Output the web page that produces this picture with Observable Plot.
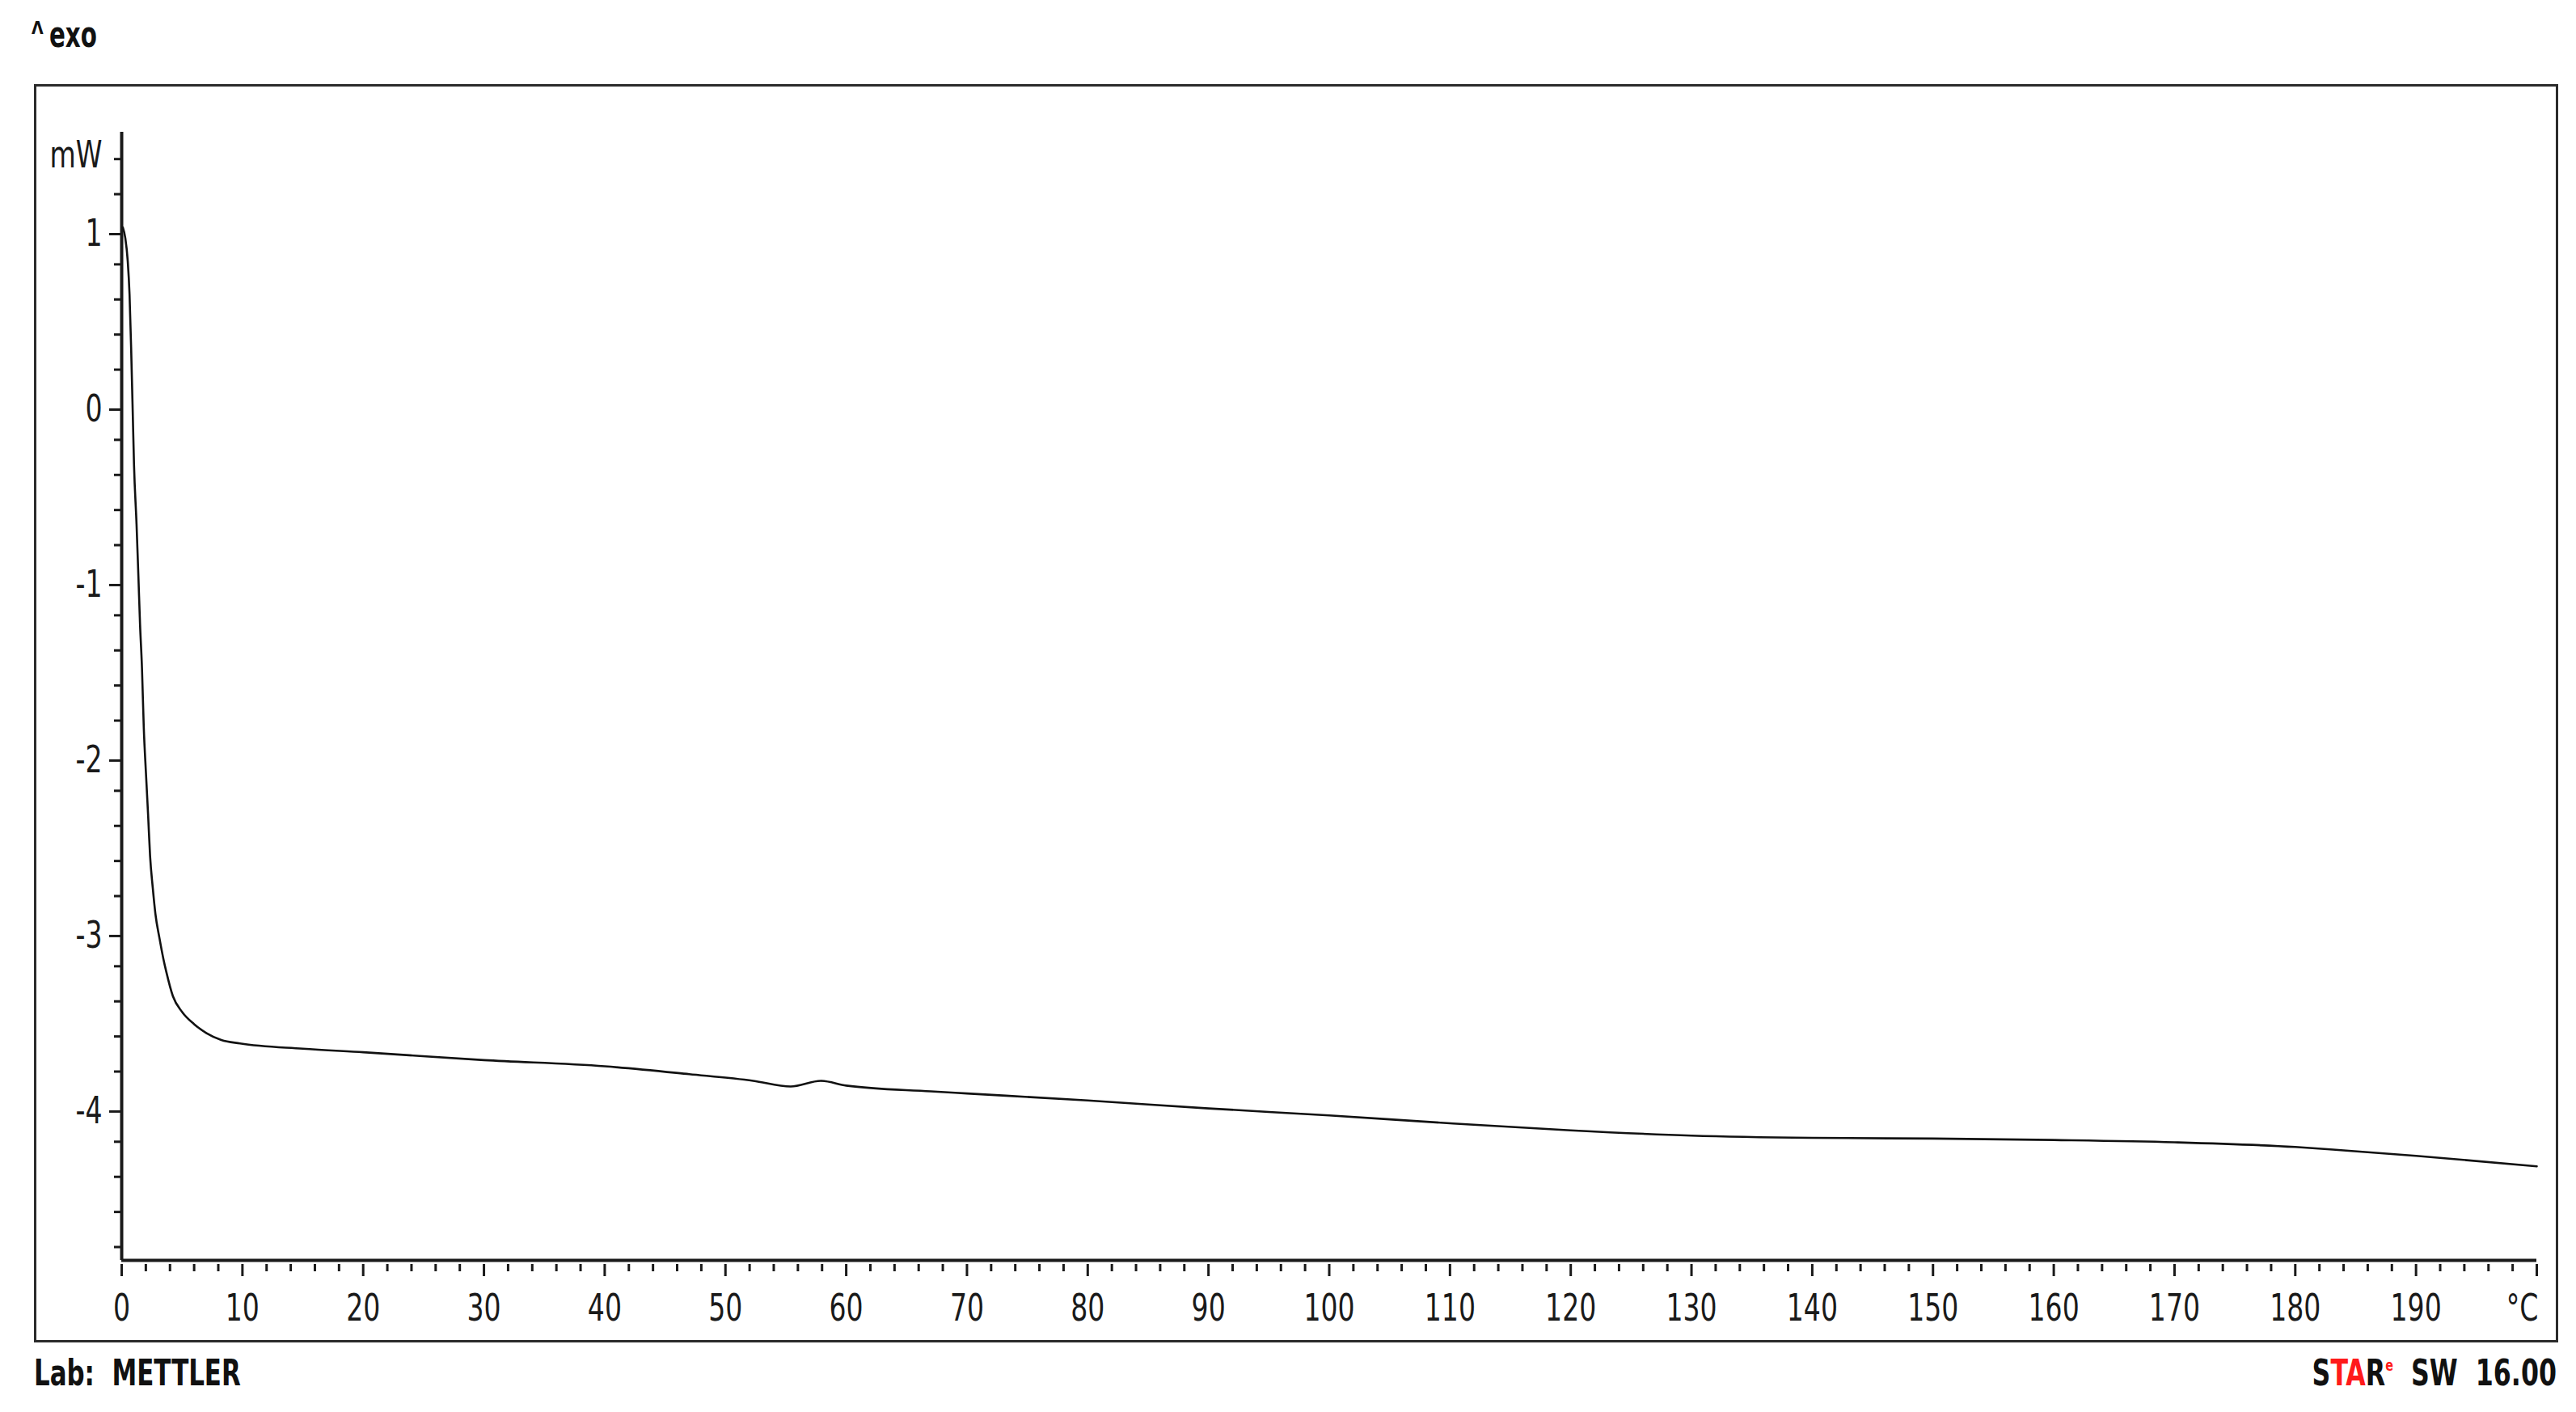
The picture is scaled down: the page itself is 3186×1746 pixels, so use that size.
<!DOCTYPE html>
<html>
<head>
<meta charset="utf-8">
<script src="https://cdn.jsdelivr.net/npm/d3@7"></script>
<script src="https://cdn.jsdelivr.net/npm/@observablehq/plot@0.6"></script>
<style>
  html, body { margin: 0; padding: 0; background: #fff; }
  body { width: 3186px; height: 1746px; position: relative; overflow: hidden;
         font-family: 'Liberation Sans Narrow', 'DejaVu Sans Condensed', 'Liberation Sans', sans-serif; color: #111; }
  #caret { position: absolute; left: 39px; top: 25px; font-weight: bold; font-size: 21px; line-height: 21px; }
  #exo { position: absolute; left: 61px; top: 21px; font-weight: bold; font-size: 44px; line-height: 44px;
         transform: scaleX(0.74); transform-origin: left center; }
  #frame { position: absolute; left: 42px; top: 104px; width: 3122px; height: 1556px; box-sizing: border-box;
           border: 3px solid #2b2b2b; background: #fff; }
  #frame svg { display: block; }
  #lab { position: absolute; left: 42px; top: 1676px; font-weight: bold; font-size: 44px; line-height: 44px; white-space: pre;
         transform: scaleX(0.78); transform-origin: left center; }
  #star { position: absolute; right: 24px; top: 1676px; font-weight: bold; font-size: 44px; line-height: 44px; white-space: pre;
          transform: scaleX(0.8); transform-origin: right center; }
  #star .red { color: #ff1a1a; }
  #star sup { font-size: 20px; vertical-align: 18px; line-height: 0; }
</style>
</head>
<body>
<div id="caret">Λ</div>
<div id="exo">exo</div>
<div id="frame"></div>
<div id="lab">Lab:  METTLER</div>
<div id="star">S<span class="red">TA</span>R<sup class="red">e</sup>  SW  16.00</div>
<script>
// DSC curve: temperature (°C) and heat flow (mW)
const temperature = [0.1, 0.3, 0.5, 0.65, 0.78, 0.9, 1.02, 1.23, 1.39, 1.52, 1.68, 1.83, 2.01, 2.19, 2.35, 2.57, 2.79, 3.13, 3.46, 3.69, 4.24, 5.0, 6.0, 7.0, 8.25, 9.8, 15, 20, 30, 40, 47, 52.3, 55.4, 57.9, 60, 67, 70, 80, 90, 100, 110, 120, 130, 140, 150, 160, 170, 180, 184, 190, 200];
const heatFlow    = [1.01, 0.95, 0.82, 0.63, 0.33, 0.0, -0.34, -0.68, -0.99, -1.25, -1.5, -1.84, -2.10, -2.34, -2.57, -2.75, -2.90, -3.04, -3.16, -3.23, -3.37, -3.46, -3.53, -3.58, -3.62, -3.64, -3.67, -3.69, -3.735, -3.77, -3.815, -3.853, -3.885, -3.853, -3.88, -3.913, -3.925, -3.965, -4.01, -4.05, -4.095, -4.135, -4.165, -4.178, -4.182, -4.19, -4.203, -4.23, -4.249, -4.28, -4.34];

const xTicks = [0, 10, 20, 30, 40, 50, 60, 70, 80, 90, 100, 110, 120, 130, 140, 150, 160, 170, 180, 190, 200];
const xTickLabels = ["0", "10", "20", "30", "40", "50", "60", "70", "80", "90", "100", "110", "120", "130", "140", "150", "160", "170", "180", "190", "°C"];
const xMinorTicks = [2, 4, 6, 8, 12, 14, 16, 18, 22, 24, 26, 28, 32, 34, 36, 38, 42, 44, 46, 48, 52, 54, 56, 58, 62, 64, 66, 68, 72, 74, 76, 78, 82, 84, 86, 88, 92, 94, 96, 98, 102, 104, 106, 108, 112, 114, 116, 118, 122, 124, 126, 128, 132, 134, 136, 138, 142, 144, 146, 148, 152, 154, 156, 158, 162, 164, 166, 168, 172, 174, 176, 178, 182, 184, 186, 188, 192, 194, 196, 198];
const yTicks = [-4, -3, -2, -1, 0, 1];
const yTickLabels = ["-4", "-3", "-2", "-1", "0", "1"];
const yMinorTicks = [-4.8, -4.6, -4.4, -4.2, -3.8, -3.6, -3.4, -3.2, -2.8, -2.6, -2.4, -2.2, -1.8, -1.6, -1.4, -1.2, -0.8, -0.6, -0.4, -0.2, 0.2, 0.4, 0.6, 0.8, 1.2, 1.4];
const yUnit = "mW";
const xDomain = [0, 200];
const yDomain = [-4.876, 1.553];

const data = temperature.map((T, i) => ({T, mW: heatFlow[i]}));
const FONT = "'Liberation Sans Narrow', 'DejaVu Sans Condensed', 'Liberation Sans', sans-serif";
const AX = "#1a1a1a";

const chart = Plot.plot({
  width: 3116,
  height: 1550,
  marginLeft: 105,
  marginRight: 24,
  marginTop: 56,
  marginBottom: 99,
  x: {domain: xDomain, label: null},
  y: {domain: yDomain, label: null},
  style: {fontFamily: FONT, fontSize: "46px", color: AX, background: "white", overflow: "visible"},
  marks: [
    Plot.axisY(yMinorTicks, {tickSize: 9, strokeWidth: 3, stroke: AX, fill: "none", label: null}),
    Plot.axisY(yTicks, {tickSize: 15, strokeWidth: 3, stroke: AX, tickPadding: 9, fontSize: 46, dy: 6, label: null,
      tickFormat: d => yTickLabels[yTicks.indexOf(d)]}),
    Plot.axisY([1.4], {tickSize: 0, tickPadding: 24, fontSize: 46, dy: -4, label: null, tickFormat: () => yUnit}),
    Plot.axisX(xMinorTicks, {tickSize: 9, strokeWidth: 3, stroke: AX, fill: "none", dy: 5, label: null}),
    Plot.axisX(xTicks, {tickSize: 15, strokeWidth: 3, stroke: AX, fill: "none", dy: 5, label: null}),
    Plot.axisX(xTicks.slice(0, -1), {tickSize: 0, tickPadding: 42, fontSize: 46, label: null,
      tickFormat: d => xTickLabels[xTicks.indexOf(d)]}),
    Plot.axisX(xTicks.slice(-1), {tickSize: 0, tickPadding: 42, fontSize: 46, textAnchor: "end", dx: 2, label: null,
      tickFormat: d => xTickLabels[xTicks.indexOf(d)]}),
    Plot.ruleX([xDomain[0]], {stroke: AX, strokeWidth: 4}),
    Plot.ruleY([yDomain[0]], {stroke: AX, strokeWidth: 4}),
    Plot.line(data, {x: "T", y: "mW", stroke: "#111", strokeWidth: 2.6, curve: "monotone-x"})
  ]
});
document.getElementById("frame").appendChild(chart);
// condense the tick-label glyphs horizontally (narrow instrument font)
chart.querySelectorAll("text").forEach(t => {
  const w = t.getComputedTextLength();
  if (w > 0) {
    t.setAttribute("textLength", (w * 0.8).toFixed(1));
    t.setAttribute("lengthAdjust", "spacingAndGlyphs");
  }
});
</script>
</body>
</html>
